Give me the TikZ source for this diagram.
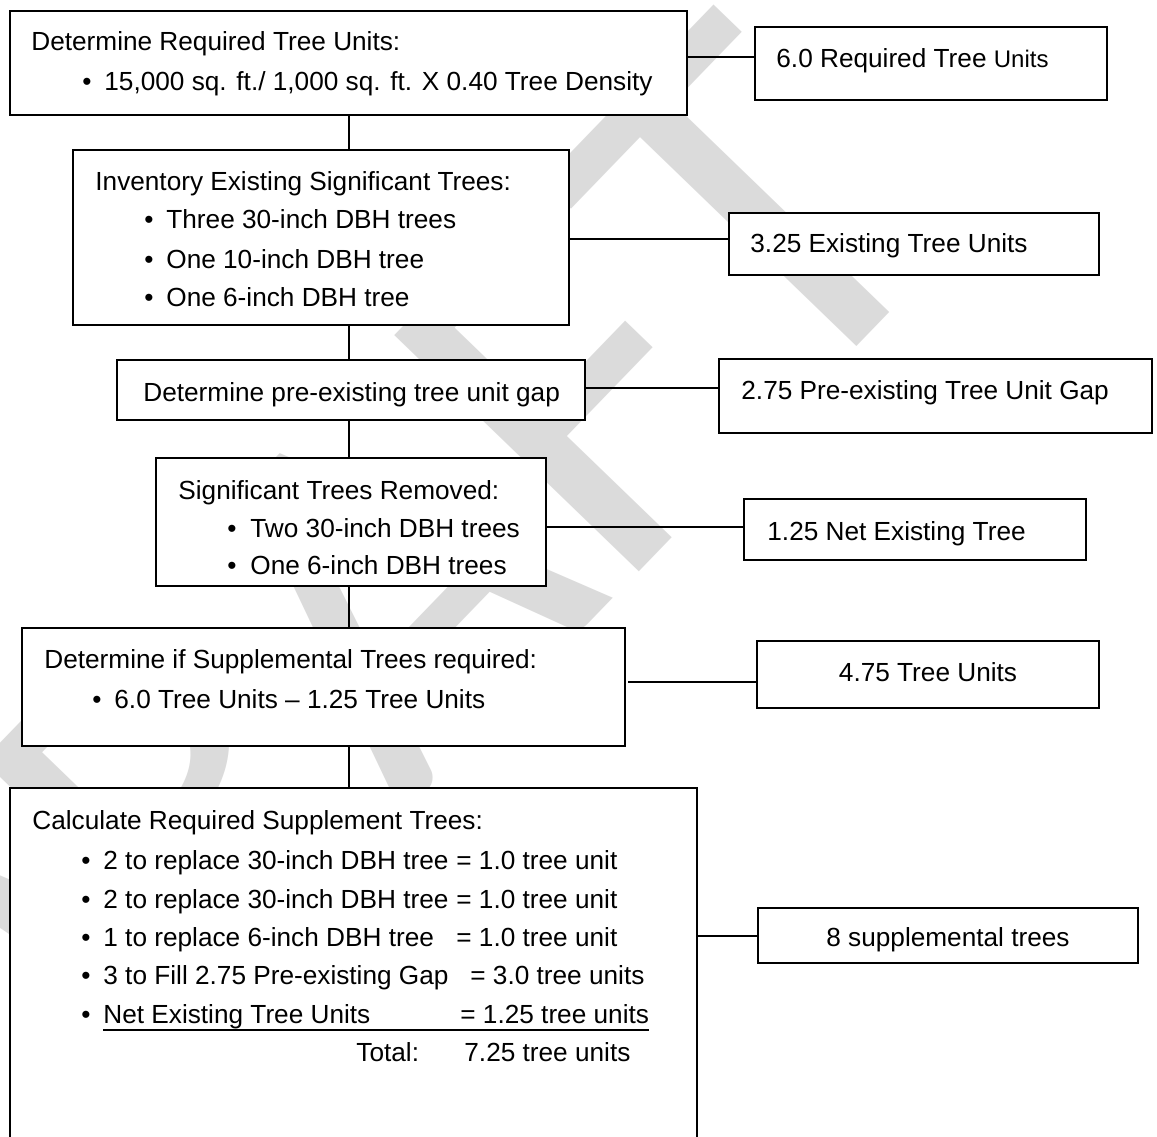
\documentclass[tikz,border=0pt]{standalone}
\usepackage{fontspec}
\setmainfont{Liberation Sans}
\newfontfamily\wmfont{Carlito}
\usetikzlibrary{fit}
\newcommand\mainfs{\fontsize{13.1pt}{16pt}\selectfont}
\begin{document}
\begin{tikzpicture}[x=0.5pt,y=-0.5pt,
  box/.style={draw, line width=1.1pt, fill=white, inner sep=0pt},
  txt/.style={anchor=base west, inner sep=0pt, font=\mainfs},
  ctxt/.style={anchor=base, inner sep=0pt, font=\mainfs},
  bul/.style={anchor=base, inner sep=0pt, font=\mainfs},
  conn/.style={line width=1pt},
  wmark/.style={anchor=base east, rotate=46, inner sep=0pt, text=black!14,
    font=\wmfont\fontsize{265pt}{265pt}\selectfont}]
\useasboundingbox (0,0) rectangle (1157,1136);
\clip (0,0) rectangle (1157,1136);
\fill[white] (0,0) rectangle (1157,1136);
% watermark
\node[wmark] (wm) at (963,236) {DRAFT};
% main boxes
\node[box, fit={(10,11) (687,115)}] (b1) {};
\node[box, fit={(73,150) (569,325)}] (b2) {};
\node[box, fit={(117,360) (585,420)}] (b3) {};
\node[box, fit={(156,458) (546,586)}] (b4) {};
\node[box, fit={(22,628) (625,746)}] (b5) {};
\node[box, fit={(10,788) (697,1170)}] (b6) {};
% result boxes
\node[box, fit={(755,27) (1107,100)}] (r1) {};
\node[box, fit={(729,213) (1099,275)}] (r2) {};
\node[box, fit={(719,359) (1152,433)}] (r3) {};
\node[box, fit={(744,499) (1086,560)}] (r4) {};
\node[box, fit={(757,641) (1099,708)}] (r5) {};
\node[box, fit={(758,908) (1138,963)}] (r6) {};
% vertical connectors
\draw[conn] (b1.south) -- (b1.south |- b2.north);
\draw[conn] (b1.south |- b2.south) -- (b1.south |- b3.north);
\draw[conn] (b1.south |- b3.south) -- (b1.south |- b4.north);
\draw[conn] (b1.south |- b4.south) -- (b1.south |- b5.north);
\draw[conn] (b1.south |- b5.south) -- (b1.south |- b6.north);
% horizontal connectors
\coordinate (h1) at (0,57);
\coordinate (h2) at (0,239);
\coordinate (h3) at (0,388);
\coordinate (h4) at (0,527);
\coordinate (h5) at (628,682);
\coordinate (h6) at (0,936);
\draw[conn] (b1.east |- h1) -- (r1.west |- h1);
\draw[conn] (b2.east |- h2) -- (r2.west |- h2);
\draw[conn] (b3.east |- h3) -- (r3.west |- h3);
\draw[conn] (b4.east |- h4) -- (r4.west |- h4);
\draw[conn] (h5) -- (r5.west |- h5);
\draw[conn] (b6.east |- h6) -- (r6.west |- h6);
% box 1 text
\node[txt] (t11) at (31,50) {Determine Required Tree Units:};
\node[bul] (u12) at (87,90) {•};
\node[txt] (t12) at (104,90) {15,000 sq. ft./ 1,000 sq. ft. X 0.40 Tree Density};
% box 2 text
\node[txt] (t21) at (95,190) {Inventory Existing Significant Trees:};
\node[bul] (u22) at (149,228) {•};
\node[txt] (t22) at (166,228) {Three 30-inch DBH trees};
\node[bul] (u23) at (149,268) {•};
\node[txt] (t23) at (166,268) {One 10-inch DBH tree};
\node[bul] (u24) at (149,306) {•};
\node[txt] (t24) at (166,306) {One 6-inch DBH tree};
% box 3 text
\node[txt] (t31) at (143,401) {Determine pre-existing tree unit gap};
% box 4 text
\node[txt] (t41) at (178,499) {Significant Trees Removed:};
\node[bul] (u42) at (232,537) {•};
\node[txt] (t42) at (250,537) {Two 30-inch DBH trees};
\node[bul] (u43) at (232,574) {•};
\node[txt] (t43) at (250,574) {One 6-inch DBH trees};
% box 5 text
\node[txt] (t51) at (44,668) {Determine if Supplemental Trees required:};
\node[bul] (u52) at (97,708) {•};
\node[txt] (t52) at (114,708) {6.0 Tree Units – 1.25 Tree Units};
% box 6 text
\node[txt] (t61) at (32,829) {Calculate Required Supplement Trees:};
\node[bul] (u62) at (86,869) {•};
\node[txt] (t62a) at (103,869) {2 to replace 30-inch DBH tree};
\node[txt] (t62b) at (456,869) {= 1.0 tree unit};
\node[bul] (u63) at (86,908) {•};
\node[txt] (t63a) at (103,908) {2 to replace 30-inch DBH tree};
\node[txt] (t63b) at (456,908) {= 1.0 tree unit};
\node[bul] (u64) at (86,946) {•};
\node[txt] (t64a) at (103,946) {1 to replace 6-inch DBH tree};
\node[txt] (t64b) at (456,946) {= 1.0 tree unit};
\node[bul] (u65) at (86,984) {•};
\node[txt] (t65a) at (103,984) {3 to Fill 2.75 Pre-existing Gap};
\node[txt] (t65b) at (470,984) {= 3.0 tree units};
\node[bul] (u66) at (86,1023) {•};
\node[txt] (t66a) at (103,1023) {Net Existing Tree Units};
\node[txt] (t66b) at (460,1023) {= 1.25 tree units};
\draw[line width=1pt] ([yshift=-3.6pt]t66a.base west) -- ([yshift=-3.6pt]t66b.base east);
\node[txt] (t67a) at (356,1061) {Total:};
\node[txt] (t67b) at (464,1061) {7.25 tree units};
% result texts
\node[txt] (s1) at (776,67) {6.0 Required Tree {\fontsize{12pt}{14pt}\selectfont Units}};
\node[txt] (s2) at (750,252) {3.25 Existing Tree Units};
\node[txt] (s3) at (741,399) {2.75 Pre-existing Tree Unit Gap};
\node[txt] (s4) at (767,540) {1.25 Net Existing Tree};
\node[ctxt] (s5) at (r5.center |- 0,681) {4.75 Tree Units};
\node[ctxt] (s6) at (r6.center |- 0,946) {8 supplemental trees};
\end{tikzpicture}
\end{document}
